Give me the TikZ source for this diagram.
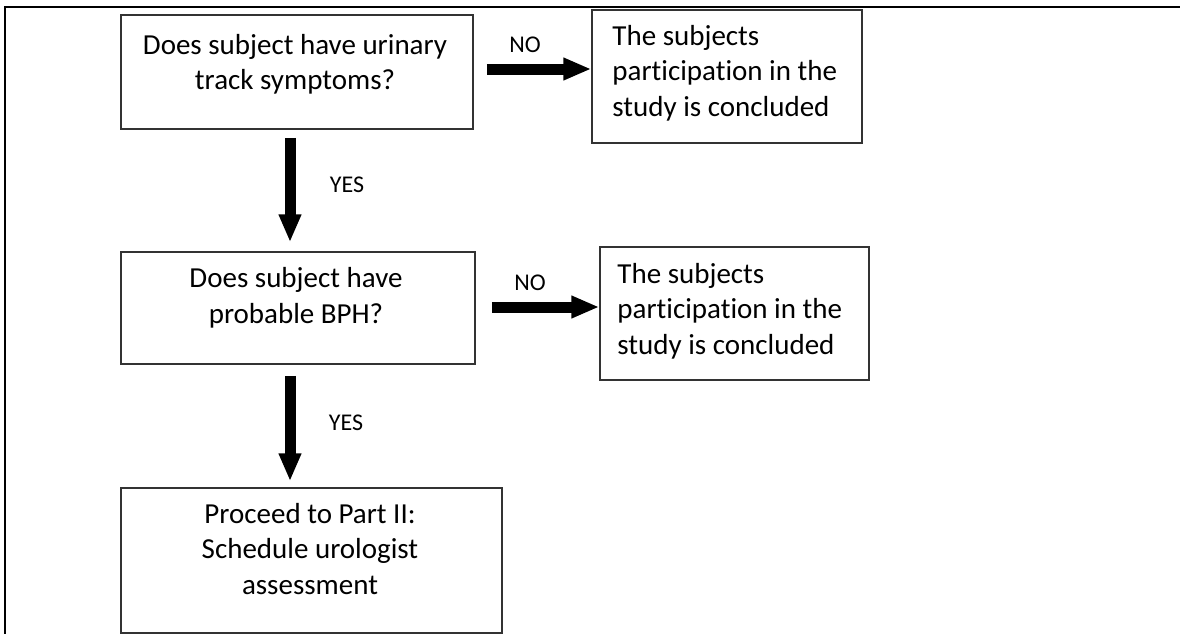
\documentclass[tikz,border=0pt]{standalone}
\usepackage{fontspec}
\setmainfont{Carlito}[Ligatures=CommonOff]
\usetikzlibrary{arrows.meta}

\tikzset{
  box/.style={draw=black!80, line width=1.5pt, rectangle, inner sep=0pt},
  boxtext/.style={inner sep=0pt, font=\fontsize{29}{35.5}\selectfont},
  blockarrow/.style={line width=11pt, -{Triangle[width=21pt,length=28pt]}},
  answer/.style={inner sep=0pt, font=\fontsize{24}{28}\selectfont}
}

\begin{document}
\begin{tikzpicture}[x=1pt,y=-1pt]
    \useasboundingbox (0,0) rectangle (1180,633);
    % Frame
    \draw[line width=2.5pt] (5,640) -- (5,7) -- (1185,7);

    % First question
    \node[box, minimum width=352pt, minimum height=114pt] (q1) at (297,72) {};
    \node[boxtext, align=center] (q1txt) at ([xshift=-2pt,yshift=7.5pt]q1.center)
        {Does subject have urinary\\track symptoms?};
    \node[box, minimum width=270pt, minimum height=133pt] (s1) at (727,76.5) {};
    \node[boxtext, align=left, anchor=west] (s1txt) at ([xshift=21pt,yshift=3.5pt]s1.west)
        {The subjects\\participation in the\\study is concluded};

    % Second question
    \node[box, minimum width=354pt, minimum height=112pt] (q2) at (298,308) {};
    \node[boxtext, align=center] (q2txt) at ([xshift=-2pt,yshift=10pt]q2.center)
        {Does subject have\\probable BPH?};
    \node[box, minimum width=269pt, minimum height=133pt] (s2) at (734.5,313.5) {};
    \node[boxtext, align=left, anchor=west] (s2txt) at ([xshift=18pt,yshift=2.5pt]s2.west)
        {The subjects\\participation in the\\study is concluded};

    % Part II
    \node[box, minimum width=381pt, minimum height=145pt] (p2) at (311.5,560.5) {};
    \node[boxtext, align=center] (p2txt) at ([xshift=-1.5pt,yshift=11.5pt]p2.center)
        {Proceed to Part II:\\Schedule urologist\\assessment};

    % NO arrows
    \draw[blockarrow] ([shift={(13pt,3pt)}]q1.east) coordinate (no1) -- (no1 -| s1.west);
    \node[answer] (no1lbl) at (525,45) {NO};
    \draw[blockarrow] ([shift={(16pt,1pt)}]q2.east) coordinate (no2) -- (no2 -| s2.west);
    \node[answer] (no2lbl) at (530,283) {NO};

    % YES arrows
    \draw[blockarrow, shorten >=9pt] ([shift={(-7pt,-8pt)}]q1.south) coordinate (yes1) -- (yes1 |- q2.north);
    \node[answer] (yes1lbl) at (347,185) {YES};
    \draw[blockarrow, shorten >=6pt] ([shift={(-8pt,-11pt)}]q2.south) coordinate (yes2) -- (yes2 |- p2.north);
    \node[answer] (yes2lbl) at (346,423) {YES};
\end{tikzpicture}
\end{document}
